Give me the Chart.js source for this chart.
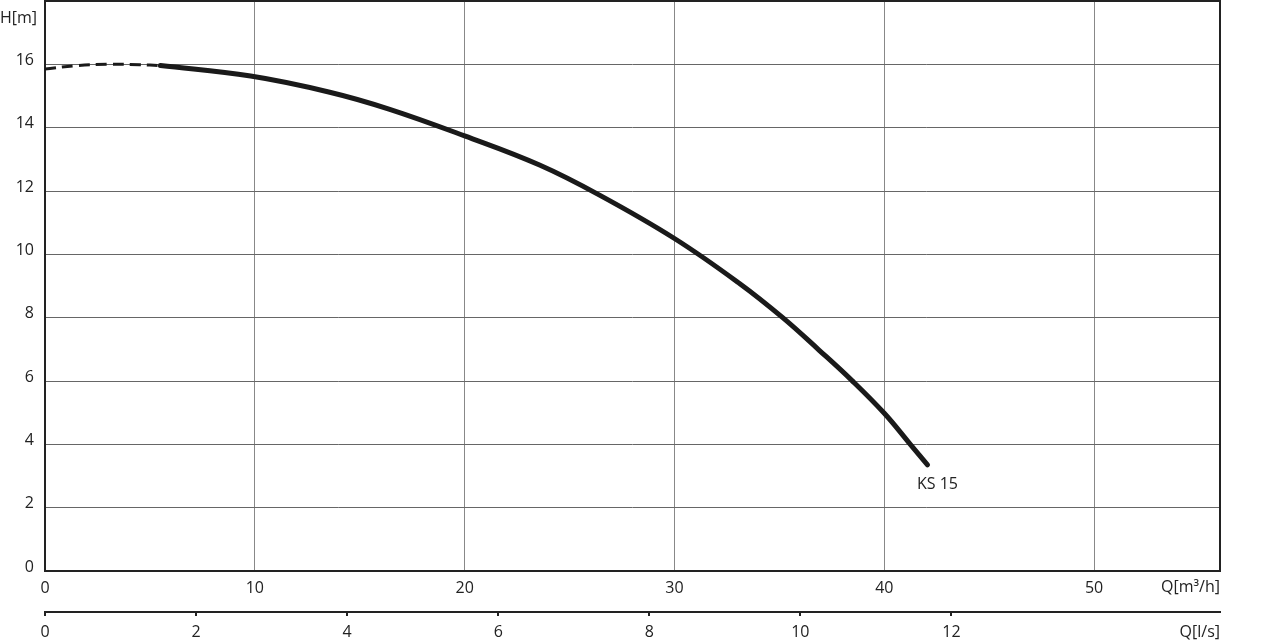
<!DOCTYPE html>
<html>
<head>
<meta charset="utf-8">
<script src="https://cdn.jsdelivr.net/npm/chart.js@4"></script>
<style>
  body { margin: 0; background: #fff; }
  canvas { display: block; }
</style>
</head>
<body>
<canvas id="pump" width="1280" height="643"></canvas>
<script>
// KS 15 pump curve, Q in m3/h, H in m
const dashQ = [0, 1.5, 3, 4.5, 5.5];
const dashH = [15.85, 15.96, 16.0, 15.99, 15.96];
const solidQ = [5.5, 9.8, 13.57, 16.43, 20, 23.57, 26.43, 30, 33.1, 35.16, 36.9, 38.45, 40, 41.24, 42.06];
const solidH = [15.96, 15.63, 15.12, 14.58, 13.74, 12.82, 11.87, 10.5, 9.08, 8.0, 6.97, 6.02, 4.98, 4.0, 3.35];
const curveName = 'KS 15';

const FONT = '"Open Sans", "DejaVu Sans", sans-serif';
const TEXT = '#222';

const toPoints = (qs, hs) => qs.map((q, i) => ({ x: q, y: hs[i] }));
const noPad = s => { s.paddingTop = 0; s.paddingBottom = 0; s.paddingLeft = 0; s.paddingRight = 0; };

const framePlugin = {
  id: 'frame',
  beforeDatasetsDraw(chart) {
    const { ctx, chartArea: a } = chart;
    ctx.save();
    ctx.strokeStyle = '#222';
    ctx.lineWidth = 2;
    ctx.strokeRect(a.left, a.top, a.right - a.left, a.bottom - a.top);
    ctx.restore();
  },
  afterDraw(chart) {
    const { ctx, chartArea: a, scales } = chart;
    ctx.save();
    ctx.font = '16px ' + FONT;
    ctx.fillStyle = TEXT;
    ctx.textBaseline = 'middle';
    ctx.textAlign = 'left';
    ctx.fillText('H[m]', 0, 18);
    ctx.textAlign = 'right';
    ctx.fillText('Q[m³/h]', a.right, scales.x.top + 16);
    ctx.fillText('Q[l/s]', a.right, scales.x2.top + 20);
    // curve name under the end of the curve
    const ds = chart.getDatasetMeta(1).data;
    const end = ds[ds.length - 1];
    ctx.textAlign = 'center';
    ctx.fillText(curveName, end.x + 10, end.y + 20);
    ctx.restore();
  }
};

new Chart(document.getElementById('pump'), {
  type: 'line',
  data: {
    datasets: [{
      data: toPoints(dashQ, dashH),
      borderColor: '#1a1a1a',
      borderWidth: 3,
      borderDash: [11, 6],
      pointRadius: 0,
      tension: 0.4,
      fill: false
    }, {
      data: toPoints(solidQ, solidH),
      borderColor: '#1a1a1a',
      borderWidth: 5,
      borderCapStyle: 'round',
      pointRadius: 0,
      tension: 0.4,
      fill: false
    }]
  },
  options: {
    responsive: false,
    animation: false,
    layout: { padding: { top: 1, right: 60, left: 0, bottom: 0 } },
    plugins: { legend: { display: false }, tooltip: { enabled: false } },
    scales: {
      x: {
        type: 'linear',
        position: 'bottom',
        min: 0, max: 56,
        afterBuildTicks: s => { s.ticks = s.ticks.filter(t => t.value % 10 === 0); },
        afterFit: s => { s.height = 41; noPad(s); },
        ticks: { stepSize: 10, color: TEXT, font: { family: FONT, size: 16 }, padding: 8, maxRotation: 0 },
        grid: { color: '#888', lineWidth: 1, drawTicks: false },
        border: { display: false }
      },
      x2: {
        type: 'linear',
        position: 'bottom',
        weight: 1,
        min: 0, max: 56 / 3.6,
        afterBuildTicks: s => { s.ticks = s.ticks.filter(t => Math.abs(t.value % 2) < 1e-6); },
        afterFit: s => { s.height = 31; noPad(s); },
        ticks: { stepSize: 2, color: TEXT, font: { family: FONT, size: 16 }, padding: 7, maxRotation: 0 },
        grid: { drawOnChartArea: false, drawTicks: true, tickLength: 4, color: '#222', lineWidth: 2 },
        border: { display: true, color: '#222', width: 2 }
      },
      y: {
        type: 'linear',
        min: 0, max: 18,
        afterBuildTicks: s => { s.ticks = s.ticks.filter(t => t.value < 18); },
        afterFit: s => { s.width = 45; noPad(s); },
        ticks: { stepSize: 2, color: TEXT, font: { family: FONT, size: 16 }, padding: 11, labelOffset: -4 },
        grid: { color: '#666', lineWidth: 1, drawTicks: false },
        border: { display: false }
      }
    }
  },
  plugins: [framePlugin]
});
</script>
</body>
</html>
